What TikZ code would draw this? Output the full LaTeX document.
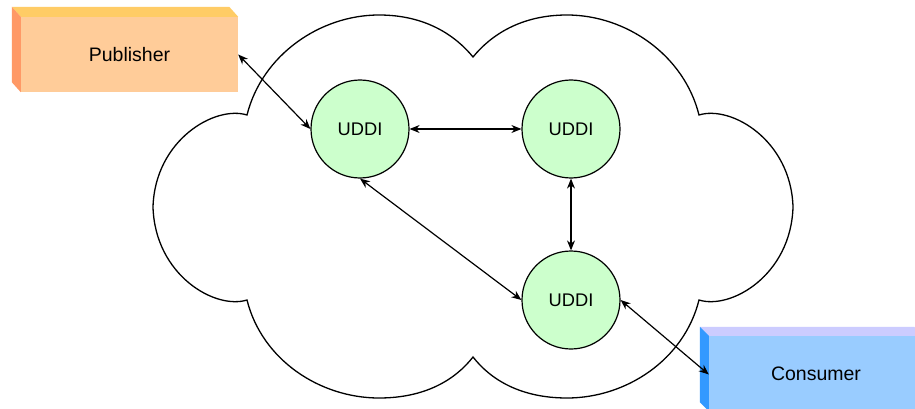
\documentclass[tikz,border=0pt]{standalone}
\usepackage{fontspec}
\setmainfont{Liberation Sans}
\usetikzlibrary{arrows.meta}
\definecolor{pubfront}{HTML}{FFCC99}
\definecolor{pubtop}{HTML}{FFCC66}
\definecolor{pubside}{HTML}{FF9966}
\definecolor{confront}{HTML}{99CCFF}
\definecolor{contop}{HTML}{CCCCFF}
\definecolor{conside}{HTML}{3399FF}
\definecolor{uddifill}{HTML}{CCFFCC}
\begin{document}
\begin{tikzpicture}[x=1pt,y=-1pt,
  boxlbl/.style={font=\fontsize{19.5}{22}\selectfont},
  uddi/.style={circle,draw=black,line width=1.2pt,fill=uddifill,minimum size=98pt,inner sep=0pt,font=\fontsize{18.3}{21}\selectfont},
  boxfront/.style={rectangle,inner sep=0pt,boxlbl},
  arr/.style={{Stealth[length=10pt,width=8pt]}-{Stealth[length=10pt,width=8pt]},line width=1.2pt},
  cloudline/.style={draw=black,line width=1.3pt}]
\useasboundingbox (0,0) rectangle (915,409);
\fill[white] (0,0) rectangle (915,409);
% cloud
\draw[cloudline] (473,57)
  .. controls (491,35) and (521,15) .. (567,15)
  .. controls (626,15) and (684,55) .. (699,115)
  .. controls (731,105) and (791,140) .. (793,207)
  .. controls (791,275) and (731,310) .. (699,300)
  .. controls (684,360) and (626,398) .. (567,398)
  .. controls (521,398) and (491,380) .. (473,357)
  .. controls (455,380) and (425,398) .. (379,398)
  .. controls (320,398) and (262,360) .. (247,300)
  .. controls (215,310) and (155,275) .. (153,207)
  .. controls (155,140) and (215,105) .. (247,115)
  .. controls (262,55) and (320,15) .. (379,15)
  .. controls (425,15) and (455,35) .. (473,57) -- cycle;
% publisher box
\node[boxfront,fill=pubfront,minimum width=217pt,minimum height=75pt] (pub) at (129.5,54.5) {Publisher};
\fill[pubtop] (pub.north west) -- ([shift={(-9,-10)}]pub.north west) -- ([shift={(-9,-10)}]pub.north east) -- (pub.north east) -- cycle;
\fill[pubside] (pub.north west) -- ([shift={(-9,-10)}]pub.north west) -- ([shift={(-9,-10)}]pub.south west) -- (pub.south west) -- cycle;
% consumer box
\node[boxfront,fill=confront,minimum width=214pt,minimum height=75pt] (con) at (816,373.5) {Consumer};
\fill[contop] (con.north west) -- ([shift={(-9,-9)}]con.north west) -- ([shift={(-9,-9)}]con.north east) -- (con.north east) -- cycle;
\fill[conside] (con.north west) -- ([shift={(-9,-9)}]con.north west) -- ([shift={(-9,-9)}]con.south west) -- (con.south west) -- cycle;
% UDDI nodes
\node[uddi] (c1) at (360,129) {UDDI};
\node[uddi] (c2) at (571,129) {UDDI};
\node[uddi] (c3) at (571,300) {UDDI};
% connectors
\draw[arr] (pub.east) -- (c1.west);
\draw[arr] (c1.east) -- (c2.west);
\draw[arr] (c2.south) -- (c3.north);
\draw[arr] (c1.south) -- (c3.west);
\draw[arr] (c3.east) -- ([yshift=-1pt]con.west);
\end{tikzpicture}
\end{document}
